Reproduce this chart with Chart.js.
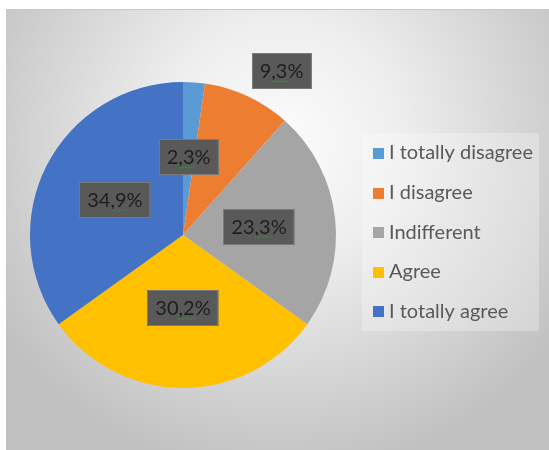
<!DOCTYPE html>
<html>
<head>
<meta charset="utf-8">
<script src="https://cdn.jsdelivr.net/npm/chart.js@4.4.1/dist/chart.umd.min.js"></script>
<style>
  html, body { margin: 0; padding: 0; background: #ffffff; }
  #wrap { width: 549px; height: 450px; }
</style>
</head>
<body>
<div id="wrap"><canvas id="opinionChart" width="549" height="450"></canvas></div>
<script>
const categories = ['I totally disagree', 'I disagree', 'Indifferent', 'Agree', 'I totally agree'];
const shares = [2.3, 9.3, 23.3, 30.2, 34.9];
const sliceColors = ['#5b9bd5', '#ed7d31', '#a5a5a5', '#ffc000', '#4472c4'];

// where each value label sits: fraction of the radius, plus a small turn in degrees
const labelSpots = [
  { r: 0.51, turn: 0 },
  { r: 1.25, turn: 6 },
  { r: 0.50, turn: 0 },
  { r: 0.48, turn: 0 },
  { r: 0.50, turn: 0 }
];

const fmt = v => v.toFixed(1).replace('.', ',') + '%';

// plot area backdrop with the soft radial shading
const backdrop = {
  id: 'backdrop',
  beforeDraw(chart) {
    const ctx = chart.ctx;
    ctx.save();
    ctx.fillStyle = '#ffffff';
    ctx.fillRect(0, 0, chart.width, chart.height);
    const g = ctx.createRadialGradient(281, 140, 0, 281, 140, 340);
    g.addColorStop(0, '#fcfcfc');
    g.addColorStop(0.35, '#eeeeee');
    g.addColorStop(1, '#c0c0c0');
    ctx.fillStyle = g;
    ctx.fillRect(6, 10, chart.width - 6, chart.height - 10);
    ctx.strokeStyle = '#c8c8c8';
    ctx.lineWidth = 1;
    ctx.beginPath();
    ctx.moveTo(6, 9.5);
    ctx.lineTo(chart.width, 9.5);
    ctx.stroke();
    ctx.restore();
  }
};

// dark boxed percentage labels
const sliceLabels = {
  id: 'sliceLabels',
  afterDatasetsDraw(chart) {
    const ctx = chart.ctx;
    const meta = chart.getDatasetMeta(0);
    ctx.save();
    ctx.font = '20px Lato';
    ctx.textBaseline = 'alphabetic';
    meta.data.forEach((arc, i) => {
      const p = arc.getProps(['x', 'y', 'startAngle', 'endAngle', 'outerRadius'], true);
      const spot = labelSpots[i];
      const mid = (p.startAngle + p.endAngle) / 2 + spot.turn * Math.PI / 180;
      const cx = p.x + Math.cos(mid) * p.outerRadius * spot.r;
      const cy = p.y + Math.sin(mid) * p.outerRadius * spot.r;
      const txt = fmt(chart.data.datasets[0].data[i]);
      const w = ctx.measureText(txt).width;
      const bw = w + 16, bh = 36;
      const bx = Math.round(cx - bw / 2), by = Math.round(cy - bh / 2);
      ctx.fillStyle = '#595959';
      ctx.fillRect(bx, by, bw, bh);
      ctx.strokeStyle = '#7a7a7a';
      ctx.lineWidth = 1;
      ctx.strokeRect(bx + 0.5, by + 0.5, bw - 1, bh - 1);
      const tx = cx - w / 2, base = cy + 7;
      ctx.fillStyle = '#1e1e1e';
      ctx.textAlign = 'left';
      ctx.fillText(txt, tx, base);
      // spell-check squiggle under the decimal comma
      const comma = txt.indexOf(',');
      const sx = tx + ctx.measureText(txt.slice(0, comma)).width;
      const ex = tx + ctx.measureText(txt.slice(0, comma + 2)).width;
      ctx.strokeStyle = '#2a9a2a';
      ctx.lineWidth = 1;
      ctx.beginPath();
      let up = true;
      ctx.moveTo(sx, base + 4);
      for (let x = sx + 2; x <= ex; x += 2) {
        ctx.lineTo(x, base + (up ? 2.5 : 4));
        up = !up;
      }
      ctx.stroke();
    });
    ctx.restore();
  }
};

// legend panel on the right
const sideLegend = {
  id: 'sideLegend',
  afterDraw(chart) {
    const ctx = chart.ctx;
    const ds = chart.data.datasets[0];
    ctx.save();
    ctx.fillStyle = 'rgba(255,255,255,0.28)';
    ctx.fillRect(362, 133, 177, 198);
    ctx.font = '20px Lato';
    ctx.textBaseline = 'middle';
    chart.data.labels.forEach((lab, i) => {
      const y = 153 + i * 39.6;
      ctx.fillStyle = ds.backgroundColor[i];
      ctx.fillRect(373, Math.round(y - 5), 11, 11);
      ctx.fillStyle = '#595959';
      ctx.fillText(lab, 389, y);
    });
    ctx.restore();
  }
};

new Chart(document.getElementById('opinionChart'), {
  type: 'pie',
  data: {
    labels: categories,
    datasets: [{
      data: shares,
      backgroundColor: sliceColors,
      borderWidth: 0
    }]
  },
  options: {
    responsive: false,
    animation: false,
    layout: { padding: { top: 82, bottom: 62, left: 30, right: 213 } },
    plugins: {
      legend: { display: false },
      tooltip: { enabled: false }
    }
  },
  plugins: [backdrop, sliceLabels, sideLegend]
});
</script>
</body>
</html>
